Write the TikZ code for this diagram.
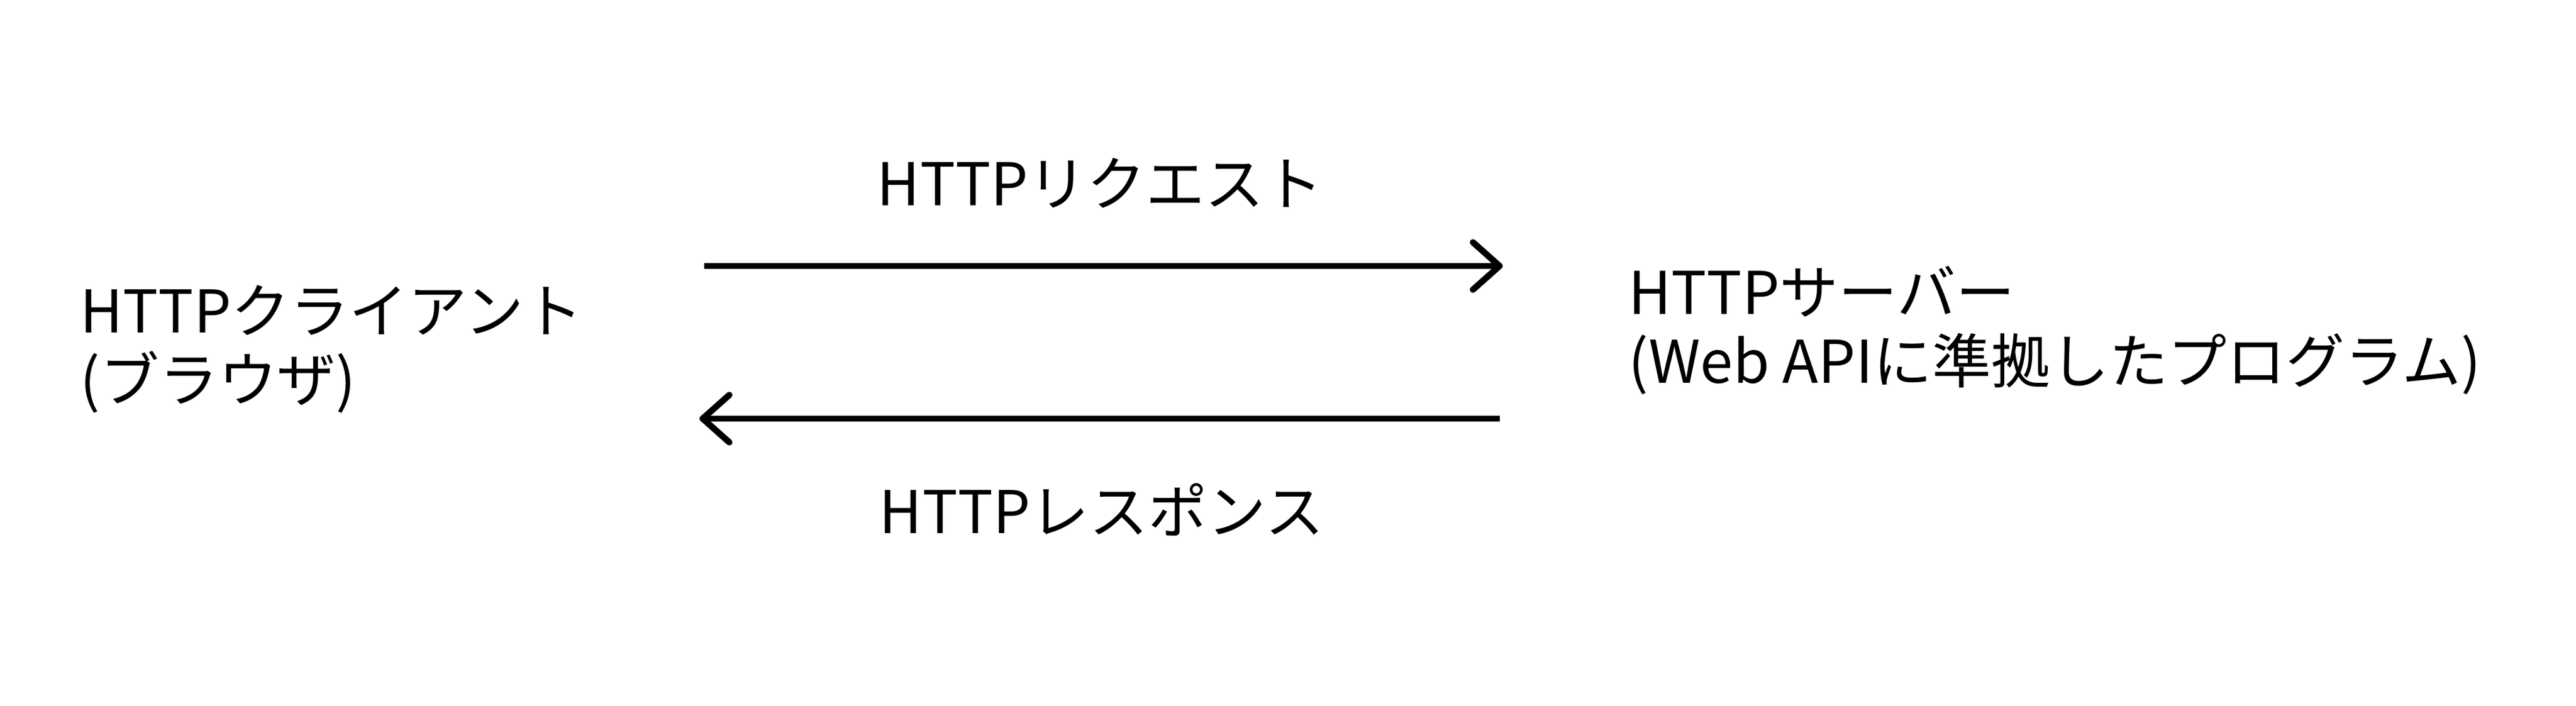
\documentclass[tikz,border=0pt]{standalone}
\usepackage{fontspec}
\setmainfont{Noto Sans CJK JP}
\usetikzlibrary{arrows.meta}

\tikzset{
	msgtext/.style={font=\fontsize{29}{33.6}\selectfont, inner sep=0pt, align=left},
	msgarrow/.style={line width=3.1pt, -{Straight Barb[length=4.6mm,width=8.2mm,round]}}
}

\begin{document}
\begin{tikzpicture}
	
	\useasboundingbox[fill=white] (0,0) rectangle (44.52,12.2);
	
	% Client and server
	\node[msgtext, anchor=base west] (client) at (1.38,5.26) {HTTPクライアント\\(ブラウザ)};
	\node[msgtext, anchor=base west] (server) at (28.14,5.58) {HTTPサーバー\\(Web APIに準拠したプログラム)};
	
	% Arrow ends
	\coordinate (reqA) at (12.17,7.6);
	\coordinate (reqB) at (25.97,7.6);
	\coordinate (resA) at (25.92,4.96);
	\coordinate (resB) at (12.09,4.96);
	
	% Request
	\draw[msgarrow] (reqA) -- (reqB);
	\node[msgtext, anchor=base] (reqlabel) at (19.01,8.65) {HTTPリクエスト};
	
	% Response
	\draw[msgarrow] (resA) -- (resB);
	\node[msgtext, anchor=base] (reslabel) at (19.04,2.98) {HTTPレスポンス};
	
\end{tikzpicture}
\end{document}
